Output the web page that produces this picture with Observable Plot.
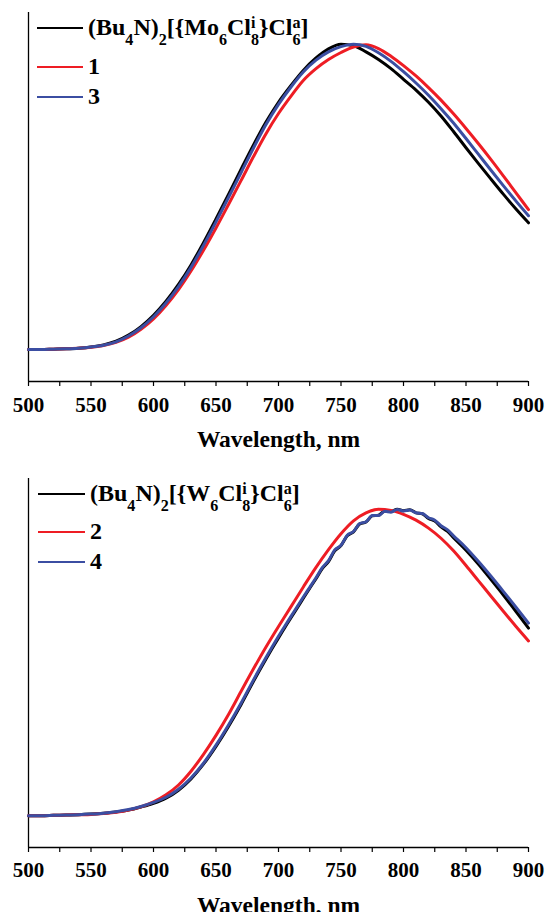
<!DOCTYPE html>
<html>
<head>
<meta charset="utf-8">
<script src="https://cdn.jsdelivr.net/npm/d3@7"></script>
<script src="https://cdn.jsdelivr.net/npm/@observablehq/plot@0.6"></script>
<style>
html,body{margin:0;padding:0;background:#fff}
#wrap{position:relative;width:545px;height:912px;overflow:hidden;font-family:"Liberation Serif","Times New Roman","DejaVu Serif",serif;font-weight:bold}
.panel{position:absolute;left:0;width:545px}
.lg-line{position:absolute;height:2px}
.lg-text{position:absolute;font-size:24px;line-height:26px;white-space:nowrap;color:#000;font-family:"Liberation Serif","Times New Roman","DejaVu Serif",serif;font-weight:bold}
.lg-text sub{font-size:0.67em;vertical-align:-0.6em;line-height:0}
.ss{display:inline-block;vertical-align:-0.62em;font-size:0.67em;line-height:1.05em;text-align:left}
.ss span{display:block}
</style>
</head>
<body>
<div id="wrap"></div>
<script>
// Wavelength grid (nm) for the Mo panel
const wavelengths = [500,510,520,530,540,550,560,570,580,590,600,610,620,630,640,650,660,670,680,690,700,710,720,730,740,750,760,770,780,790,800,810,820,830,840,850,860,870,880,890,900];
// Wavelength grid (nm) for the noisier W spectra (denser near the maximum)
const wavelengthsW = [500,510,520,530,540,550,560,570,580,590,600,610,620,630,640,650,660,670,680,685,690,695,700,705,710,715,720,725,730,735,740,745,750,755,760,765,770,775,780,785,790,795,800,805,810,815,820,825,830,835,840,850,860,870,880,890,900];

// Top panel: Mo clusters (normalized emission)
const moRef = [0.000,0.000,0.001,0.002,0.004,0.008,0.015,0.027,0.047,0.075,0.112,0.158,0.213,0.277,0.350,0.428,0.508,0.590,0.670,0.745,0.810,0.865,0.915,0.955,0.985,1.000,0.995,0.975,0.950,0.920,0.885,0.850,0.810,0.765,0.714,0.661,0.609,0.558,0.508,0.460,0.415];
const mo1   = [0.000,0.000,0.001,0.002,0.004,0.007,0.013,0.023,0.040,0.066,0.100,0.144,0.196,0.257,0.325,0.398,0.475,0.553,0.632,0.707,0.773,0.830,0.882,0.920,0.950,0.973,0.991,0.998,0.986,0.961,0.930,0.896,0.858,0.817,0.772,0.724,0.674,0.622,0.568,0.513,0.458];
const mo3   = [0.000,0.000,0.001,0.002,0.004,0.008,0.014,0.025,0.044,0.071,0.107,0.152,0.206,0.269,0.341,0.418,0.498,0.579,0.660,0.737,0.803,0.860,0.910,0.948,0.975,0.992,1.000,0.993,0.972,0.944,0.910,0.873,0.833,0.789,0.742,0.691,0.639,0.587,0.536,0.486,0.438];

// Bottom panel: W clusters (normalized emission)
const wRef = [0.000,0.000,0.001,0.002,0.003,0.005,0.008,0.012,0.018,0.028,0.040,0.057,0.083,0.120,0.168,0.226,0.291,0.362,
  0.438,0.475,0.511,0.546,0.580,0.613,0.646,0.678,0.710,0.742,0.773,0.806,0.829,0.864,0.881,0.913,0.926,0.952,0.958,0.978,0.980,0.994,0.992,1.000,0.995,0.998,0.988,0.985,0.970,0.961,0.942,0.928,0.907,
  0.866,0.820,0.770,0.719,0.666,0.612];
const w2   = [0.000,0.000,0.001,0.002,0.003,0.004,0.007,0.011,0.018,0.029,0.045,0.068,0.100,0.145,0.200,0.262,0.330,0.405,0.479,0.550,0.617,0.682,0.747,0.810,0.868,0.920,0.962,0.988,1.000,0.996,0.983,0.964,0.938,0.905,0.864,0.816,0.766,0.716,0.666,0.617,0.570];
const w4   = [0.000,0.000,0.001,0.002,0.003,0.005,0.008,0.013,0.020,0.030,0.043,0.060,0.086,0.123,0.171,0.230,0.296,0.367,
  0.443,0.480,0.516,0.551,0.585,0.618,0.650,0.682,0.714,0.745,0.776,0.809,0.832,0.867,0.882,0.915,0.927,0.953,0.959,0.979,0.979,0.993,0.990,0.999,0.994,0.997,0.988,0.986,0.972,0.964,0.946,0.933,0.913,
  0.874,0.829,0.781,0.731,0.680,0.628];

const majorTicks = [500,550,600,650,700,750,800,850,900];
const minorTicks = [525,575,625,675,725,775,825,875];
const colors = ["#000000", "#ee1d24", "#3b4ea2"];

const topLegend = ['(Bu<sub>4</sub>N)<sub>2</sub>[{Mo<sub>6</sub>Cl<span class="ss"><span>i</span><span>8</span></span>}Cl<span class="ss"><span>a</span><span>6</span></span>]', '1', '3'];
const botLegend = ['(Bu<sub>4</sub>N)<sub>2</sub>[{W<sub>6</sub>Cl<span class="ss"><span>i</span><span>8</span></span>}Cl<span class="ss"><span>a</span><span>6</span></span>]', '2', '4'];

const serif = '"Liberation Serif","Times New Roman","DejaVu Serif",serif';

function table(xs, arr) { return xs.map((w, i) => ({wl: w, v: arr[i]})); }

function makePanel(series, yDomain, height, mt, mb, labelPad, titleDy) {
  const marks = [
    Plot.ruleX([500], {stroke: "#000", strokeWidth: 1.3}),
    Plot.ruleY([yDomain[0]], {stroke: "#000", strokeWidth: 1.3}),
    Plot.axisX({ticks: minorTicks, tickSize: 5, tickFormat: () => "", strokeWidth: 1.2, label: null}),
    Plot.axisX({ticks: majorTicks, tickSize: 5, tickPadding: labelPad, fontSize: 21, fontFamily: serif, fontWeight: "bold", strokeWidth: 1.2, label: null}),
    Plot.text(["Wavelength, nm"], {frameAnchor: "bottom", dy: titleDy, fontSize: 23.5, fontFamily: serif, fontWeight: "bold", lineAnchor: "middle", fill: "#000"})
  ];
  series.forEach(([xs, s], i) => {
    marks.push(Plot.line(table(xs, s), {x: "wl", y: "v", stroke: colors[i], strokeWidth: 3, curve: "monotone-x"}));
  });
  return Plot.plot({
    width: 545, height: height,
    marginLeft: 28, marginRight: 17, marginTop: mt, marginBottom: mb,
    style: {fontFamily: serif, fontWeight: "bold", fontSize: "20px", color: "#000", background: "#fff", overflow: "visible"},
    x: {domain: [500, 900], label: null},
    y: {domain: yDomain, axis: null},
    marks
  });
}

const wrap = document.getElementById("wrap");

function addPanel(svg, top) {
  const d = document.createElement("div");
  d.className = "panel";
  d.style.top = top + "px";
  d.appendChild(svg);
  wrap.appendChild(d);
}

function addLegend(items, rows, x1, x2, tx) {
  items.forEach((html, i) => {
    const ln = document.createElement("div");
    ln.className = "lg-line";
    ln.style.left = x1 + "px";
    ln.style.width = (x2 - x1) + "px";
    ln.style.top = (rows[i] - 1) + "px";
    ln.style.background = colors[i];
    wrap.appendChild(ln);
    const t = document.createElement("div");
    t.className = "lg-text";
    t.style.left = tx + "px";
    t.style.top = (rows[i] - 14) + "px";
    t.innerHTML = html;
    wrap.appendChild(t);
  });
}

addPanel(makePanel([[wavelengths, moRef], [wavelengths, mo1], [wavelengths, mo3]], [-0.105, 1.104], 456, 12, 75, 11, 58), 0);
addPanel(makePanel([[wavelengthsW, wRef], [wavelengths, w2], [wavelengthsW, w4]], [-0.104, 1.10], 456, 22, 65, 10, 58), 456);
addLegend(topLegend, [28, 67, 97], 37, 83, 88);
addLegend(botLegend, [494, 532, 562], 38, 85, 90);
</script>
</body>
</html>
